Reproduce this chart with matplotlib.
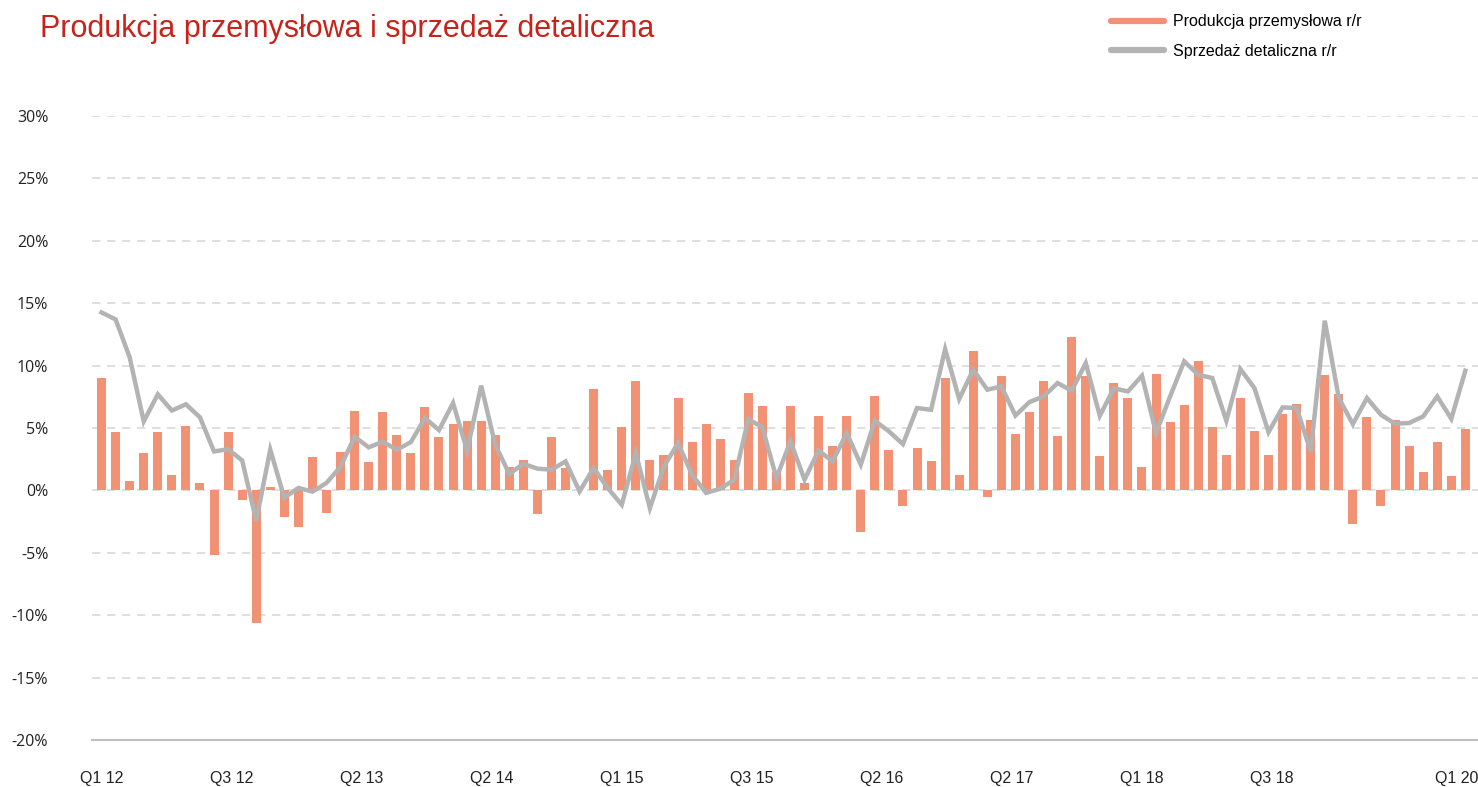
import matplotlib
matplotlib.use("Agg")
import matplotlib.pyplot as plt
from matplotlib.lines import Line2D
import numpy as np

# monthly y/y changes, Jan 2012 .. Feb 2020
prod = [9.0, 4.65, 0.72, 2.96, 4.65, 1.2, 5.2, 0.56, -5.2, 4.65,
        -0.8, -10.6, 0.3, -2.1, -2.9, 2.7, -1.8, 3.04, 6.33, 2.24,
        6.25, 4.4, 2.96, 6.65, 4.25, 5.29, 5.53, 5.53, 4.4, 1.84,
        2.4, -1.9, 4.25, 1.76, 0.0, 8.1, 1.6, 5.05, 8.8, 2.4,
        2.8, 7.37, 3.85, 5.29, 4.1, 2.4, 7.77, 6.73, 1.44, 6.73,
        0.56, 6.0, 3.52, 6.0, -3.34, 7.53, 3.2, -1.28, 3.36, 2.32,
        8.97, 1.2, 11.14, -0.56, 9.13, 4.49, 6.25, 8.8, 4.33, 12.26,
        9.13, 2.72, 8.57, 7.37, 1.84, 9.29, 5.45, 6.81, 10.34, 5.05,
        2.8, 7.37, 4.73, 2.8, 6.09, 6.89, 5.61, 9.21, 7.69, -2.7,
        5.85, -1.28, 5.61, 3.52, 1.44, 3.85, 1.12, 4.89]

retail = [14.26, 13.7, 10.66, 5.53, 7.7, 6.4, 6.9, 5.85, 3.12, 3.3,
          2.4, -2.43, 3.26, -0.6, 0.2, -0.1, 0.6, 1.9, 4.3, 3.45,
          3.9, 3.26, 3.87, 5.8, 4.83, 7.0, 3.18, 8.39, 3.66, 1.31,
          2.14, 1.74, 1.66, 2.32, -0.08, 1.79, 0.19, -1.15, 2.99, -1.42,
          1.92, 3.79, 1.26, -0.2, 0.13, 0.86, 5.71, 5.06, 0.99, 3.93,
          0.86, 3.2, 2.32, 4.6, 2.06, 5.58, 4.73, 3.71, 6.6, 6.46,
          11.32, 7.32, 9.67, 8.07, 8.33, 6.0, 7.08, 7.53, 8.6, 7.99,
          10.2, 5.98, 8.18, 7.93, 9.19, 4.6, 7.53, 10.34, 9.27, 9.0,
          5.58, 9.72, 8.2, 4.67, 6.65, 6.6, 3.12, 13.6, 7.4, 5.31,
          7.4, 6.06, 5.34, 5.4, 5.93, 7.53, 5.74, 9.59]

x_labels = ["Q1 12", "Q3 12", "Q2 13", "Q2 14", "Q1 15", "Q3 15",
            "Q2 16", "Q2 17", "Q1 18", "Q3 18", "Q1 20"]
y_ticks = [-20, -15, -10, -5, 0, 5, 10, 15, 20, 25, 30]

BAR_COLOR = "#F09273"
LINE_COLOR = "#B3B3B3"
TITLE_COLOR = "#C8231B"
SANS = ["Liberation Sans", "DejaVu Sans"]

fig = plt.figure(figsize=(14.78, 7.87), dpi=100)
ax = fig.add_axes([92 / 1478, 47 / 787, 1386 / 1478, 624 / 787])

x = np.arange(len(prod))
ax.bar(x, prod, width=0.64, color=BAR_COLOR, zorder=2)
ax.plot(x, retail, color=LINE_COLOR, lw=3.2, zorder=3, solid_joinstyle="miter")

ax.set_xlim(-0.68, 97.9)
ax.set_ylim(-20, 30)

# grid
for v in y_ticks[1:]:
    ax.axhline(v, color="#D9D9D9", lw=1.2, ls=(0, (5, 4)), zorder=1)

for s in ["top", "right", "left"]:
    ax.spines[s].set_visible(False)
ax.spines["bottom"].set_color("#BFBFBF")
ax.spines["bottom"].set_linewidth(1.5)

ax.set_yticks(y_ticks)
ax.set_yticklabels([f"{v}%" for v in y_ticks], fontsize=11.5, family="Open Sans", color="#222222")
ax.tick_params(axis="y", length=0, pad=31.5)

tick_pos = list(np.arange(10) * 9.25) + [96.4]
ax.set_xticks(tick_pos)
ax.set_xticklabels(x_labels, fontsize=11.5, family=SANS, color="#222222")
ax.tick_params(axis="x", length=0, pad=22)

fig.text(40 / 1478, 1 - 29 / 787, "Produkcja przemysłowa i sprzedaż detaliczna",
         fontsize=22, color=TITLE_COLOR, family="Liberation Sans", va="center", ha="left")

handles = [Line2D([], [], color=BAR_COLOR, lw=4.5, solid_capstyle="round"),
           Line2D([], [], color=LINE_COLOR, lw=4.5, solid_capstyle="round")]
fig.legend(handles, ["Produkcja przemysłowa r/r", "Sprzedaż detaliczna r/r"],
           loc="upper left", bbox_to_anchor=(1097 / 1478, 1 - 0 / 787),
           frameon=False, prop={"family": SANS, "size": 11.5},
           handlelength=3.3, handletextpad=0.55, labelspacing=0.9)

fig.savefig("out.png", dpi=100)
